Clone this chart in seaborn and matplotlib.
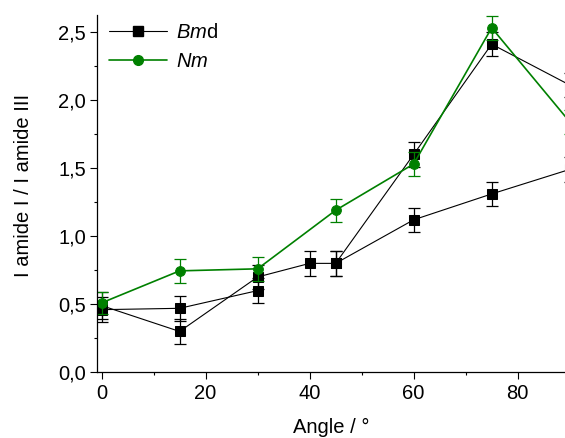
import matplotlib
matplotlib.use("Agg")
import matplotlib.pyplot as plt
import numpy as np
import pandas as pd
import seaborn as sns
from matplotlib.ticker import MultipleLocator, FuncFormatter
from matplotlib.lines import Line2D

# ======== data =============================================
angle = [0, 15, 30, 40, 45, 60, 75, 90]
bmd_a = [0.49, 0.30, 0.70, 0.80, 0.80, 1.60, 2.41, 2.11]
bmd_a_err = [0.10, 0.09, 0.09, 0.09, 0.09, 0.09, 0.09, 0.09]
bmd_b = [0.46, 0.47, 0.60, np.nan, 0.80, 1.12, 1.31, 1.49]
bmd_b_err = [0.09, 0.09, 0.09, np.nan, 0.09, 0.09, 0.09, 0.09]

nm_angle = [0, 15, 30, 45, 60, 75, 90]
nm = [0.51, 0.745, 0.76, 1.19, 1.53, 2.53, 1.84]
nm_err = [0.08, 0.09, 0.09, 0.085, 0.09, 0.09, 0.09]

legend_labels = [r"$\it{Bm}$d", r"$\it{Nm}$"]
GREEN = "#008000"
FS = 14.5

sns.set_style("ticks", {"text.color": "black", "axes.labelcolor": "black",
                        "xtick.color": "black", "ytick.color": "black",
                        "axes.edgecolor": "black"})
plt.rcParams["font.family"] = ["Liberation Sans", "DejaVu Sans"]
plt.rcParams["mathtext.fontset"] = "custom"
plt.rcParams["mathtext.rm"] = "Liberation Sans"
plt.rcParams["mathtext.it"] = "Liberation Sans:italic"

fig = plt.figure(figsize=(5.65, 4.38), dpi=100)
ax = fig.add_axes([0.171, 0.15, 0.829, 0.816])

# black series (second one has a gap between 30 and 45)
df_a = pd.DataFrame({"angle": angle, "ratio": bmd_a, "err": bmd_a_err, "seg": 0})
df_b = pd.DataFrame({"angle": angle, "ratio": bmd_b, "err": bmd_b_err})
df_b["seg"] = df_b["ratio"].isna().cumsum()
df_b = df_b.dropna()

for df in (df_a, df_b):
    ax.errorbar(df["angle"], df["ratio"], yerr=df["err"],
                fmt="none", ecolor="black", elinewidth=0.9, capsize=4.5, capthick=0.9)
    sns.lineplot(data=df, x="angle", y="ratio", units="seg", estimator=None,
                 color="black", linewidth=0.8, marker="s", markersize=6.5,
                 markeredgecolor="black", sort=False, ax=ax)

# green series
ax.errorbar(nm_angle, nm, yerr=nm_err, fmt="none", ecolor=GREEN,
            elinewidth=0.9, capsize=4.5, capthick=0.9)
sns.lineplot(x=nm_angle, y=nm, color=GREEN, linewidth=1.2, marker="o",
             markersize=7, markeredgecolor=GREEN, ax=ax)

ax.set_xlim(-0.96, 89.1)
ax.set_ylim(0, 2.625)
ax.xaxis.set_major_locator(MultipleLocator(20))
ax.xaxis.set_minor_locator(MultipleLocator(10))
ax.yaxis.set_major_locator(MultipleLocator(0.5))
ax.yaxis.set_minor_locator(MultipleLocator(0.25))
ax.yaxis.set_major_formatter(FuncFormatter(lambda v, p: f"{v:.1f}".replace(".", ",")))
ax.tick_params(which="major", direction="out", length=5, width=0.8,
               labelsize=FS, color="black", labelcolor="black")
ax.tick_params(which="minor", direction="out", length=2.5, width=0.8)
ax.tick_params(axis="x", which="major", pad=3.5)
ax.tick_params(axis="y", which="major", pad=2.5)

for s in ("top", "right"):
    ax.spines[s].set_visible(False)
for s in ("left", "bottom"):
    ax.spines[s].set_linewidth(0.9)
    ax.spines[s].set_color("black")

ax.set_xlabel("Angle / °", fontsize=FS, va="top", color="black")
ax.set_ylabel("I amide I / I amide III", fontsize=FS, color="black")
ax.xaxis.set_label_coords(0.5, -0.128)
ax.yaxis.set_label_coords(-0.135, 0.522)

handles = [
    Line2D([], [], color="black", linewidth=0.8, marker="s", markersize=6.5),
    Line2D([], [], color=GREEN, linewidth=1.2, marker="o", markersize=7),
]
ax.legend(handles, legend_labels, loc="upper left", bbox_to_anchor=(0.013, 0.995),
          frameon=False, fontsize=FS, handlelength=2.9, handletextpad=0.45,
          borderaxespad=0, borderpad=0.3, labelspacing=0.5, numpoints=1)

fig.savefig("out.png", dpi=100)
plt.close(fig)
